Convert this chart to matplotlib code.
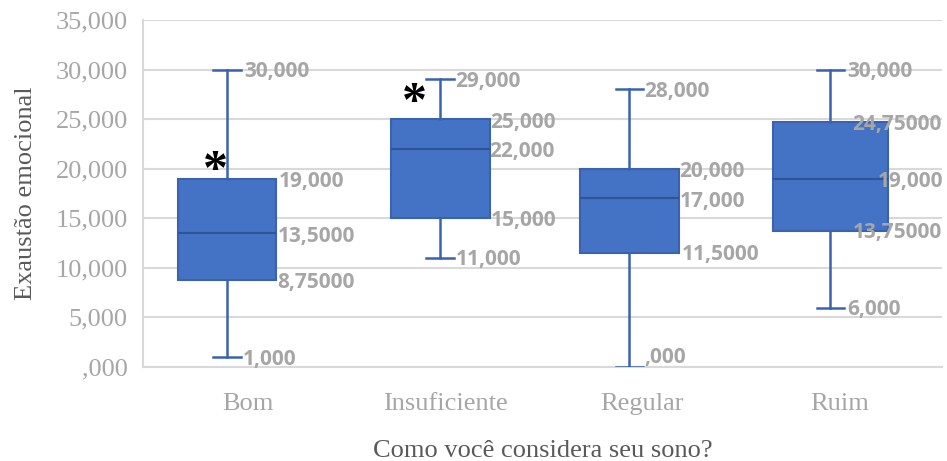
#!/usr/bin/env python3
"""Boxplot: Exaustão emocional por qualidade do sono."""

import matplotlib
matplotlib.use("Agg")
import matplotlib.pyplot as plt

# data
categories = ["Bom", "Insuficiente", "Regular", "Ruim"]
whis_lo = [1000, 11000, 0, 6000]
q1 = [8750, 15000, 11500, 13750]
median = [13500, 22000, 17000, 19000]
q3 = [19000, 25000, 20000, 24750]
whis_hi = [30000, 29000, 28000, 30000]
extremes = [21000, 28000]          # asterisks (Bom, Insuficiente)
extreme_cat = [0, 1]

# printed labels, order: whis_hi, q3, median, q1, whis_lo
labels = [
    ["30,000", "19,000", "13,5000", "8,75000", "1,000"],
    ["29,000", "25,000", "22,000", "15,000", "11,000"],
    ["28,000", "20,000", "17,000", "11,5000", ",000"],
    ["30,000", "24,75000", "19,000", "13,75000", "6,000"],
]
yticks = [0, 5000, 10000, 15000, 20000, 25000, 30000, 35000]
ytick_labels = [",000", "5,000", "10,000", "15,000", "20,000", "25,000", "30,000", "35,000"]

# layout / style
positions = [0.893, 1.975, 2.934, 3.954]
widths = [0.50, 0.50, 0.50, 0.58]
label_dx = [[17, 52, 51, 50, 16], [15, 50, 49, 50, 15],
            [15, 50, 50, 52, 15], [17, 22, 47, 22, 17]]
label_dy = [[-2, -3, -3, -2, -2], [-2, -3, -3, -2, -2],
            [-2, -3, -3, -2, 10], [-2, -3, -3, -2, -2]]
ast_dy = [-13, -15]
ast_dx = [-12, -26]

BLUE = "#4472C4"
EDGE = "#3A62AE"
MED = "#2F5597"
GRAY_TXT = "#a6a6a6"
GRID = "#d9d9d9"

fig = plt.figure(figsize=(9.47, 4.61), dpi=100)
ax = fig.add_axes([143 / 947, 94 / 461, 799 / 947, 347 / 461])

stats = []
for i, c in enumerate(categories):
    stats.append(dict(label=c, whislo=whis_lo[i], q1=q1[i], med=median[i],
                      q3=q3[i], whishi=whis_hi[i], fliers=[]))

ax.bxp(stats, positions=positions, widths=widths, capwidths=0.14,
       patch_artist=True, showfliers=False,
       boxprops=dict(facecolor=BLUE, edgecolor=EDGE, linewidth=1.5),
       medianprops=dict(color=MED, linewidth=1.5),
       whiskerprops=dict(color=EDGE, linewidth=1.8),
       capprops=dict(color=EDGE, linewidth=1.8), zorder=3)

# value labels
for i in range(len(categories)):
    vals = [whis_hi[i], q3[i], median[i], q1[i], whis_lo[i]]
    for j, v in enumerate(vals):
        ax.annotate(labels[i][j], xy=(positions[i], v),
                    xytext=(label_dx[i][j], label_dy[i][j]), textcoords="offset pixels",
                    ha="left", va="center", fontsize=15, fontweight="bold",
                    family="Open Sans", color=GRAY_TXT, zorder=5,
                    annotation_clip=False)

# asterisks
for k, v in enumerate(extremes):
    ax.annotate("*", xy=(positions[extreme_cat[k]], v), xytext=(ast_dx[k], ast_dy[k]),
                textcoords="offset pixels", ha="center", va="center",
                fontsize=36, fontweight="bold", family="Liberation Serif",
                color="black", zorder=6)

ax.set_xlim(0.467, 4.52)
ax.set_ylim(0, 35000)
ax.set_yticks(yticks)
ax.set_yticklabels(ytick_labels)
ax.set_xticks([1, 2, 3, 4])
ax.set_xticklabels(categories)

ax.grid(axis="y", color=GRID, linewidth=1.5, zorder=0)
ax.set_axisbelow(True)
for s in ["top", "right"]:
    ax.spines[s].set_visible(False)
for s in ["left", "bottom"]:
    ax.spines[s].set_color(GRID)
    ax.spines[s].set_linewidth(1.5)

ax.tick_params(axis="both", length=0, labelsize=19, labelcolor="#a6a6a6")
ax.tick_params(axis="y", pad=11)
ax.tick_params(axis="x", pad=19)
for t in ax.get_xticklabels() + ax.get_yticklabels():
    t.set_family("Liberation Serif")

ax.set_ylabel("Exaustão emocional", family="Liberation Serif", fontsize=19,
              color="#595959", labelpad=13)
ax.set_xlabel("Como você considera seu sono?", family="Liberation Serif",
              fontsize=19, color="#595959", labelpad=18)

fig.savefig("out.png", dpi=100)
